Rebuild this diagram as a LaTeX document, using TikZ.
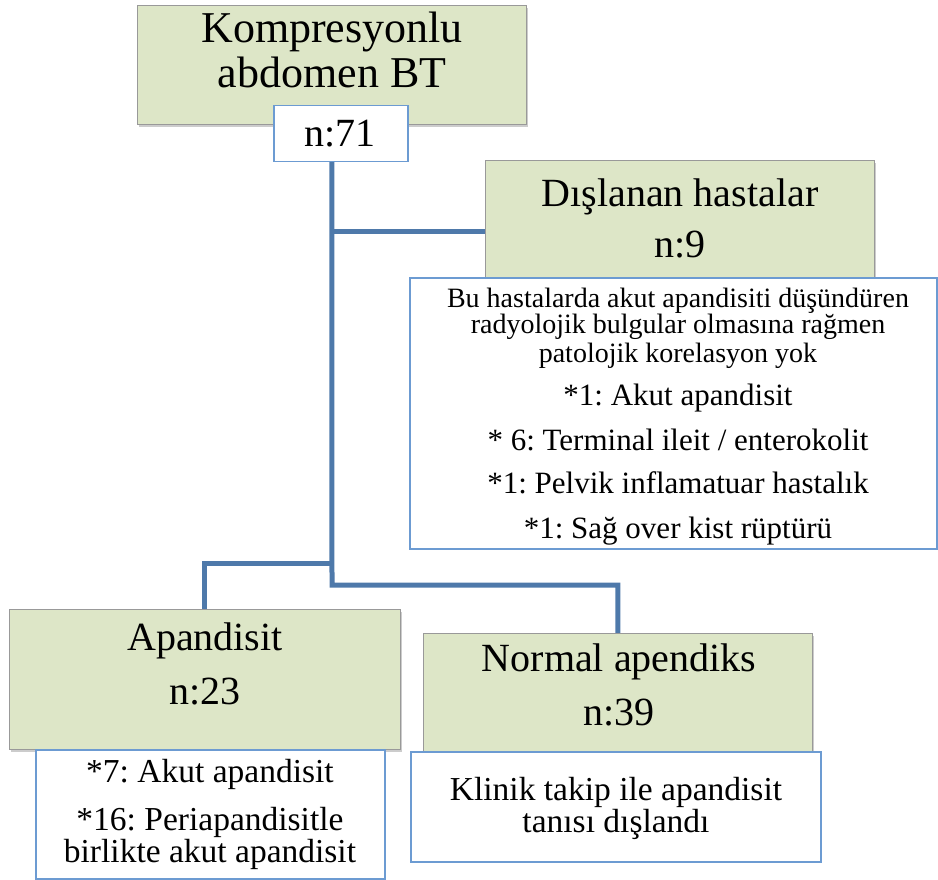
\documentclass[tikz,border=0pt]{standalone}
\usepackage{fontspec}
\setmainfont{Liberation Serif}
\usetikzlibrary{shadows,backgrounds}
\frenchspacing

\definecolor{boxgreen}{RGB}{221,230,199}
\definecolor{boxline}{RGB}{108,155,210}
\definecolor{linkblue}{RGB}{78,121,170}

\newcommand{\toptxt}{\fontsize{44}{44}\selectfont}
\newcommand{\bigtxt}{\fontsize{40}{40}\selectfont}
\newcommand{\smalltxt}{\fontsize{28}{28}\selectfont}
\newcommand{\listtxt}{\fontsize{31}{31}\selectfont}
\newcommand{\lowtxt}{\fontsize{33.5}{33.5}\selectfont}

\tikzset{
  greenbox/.style={draw=black!40, fill=boxgreen, line width=0.8pt, inner sep=0pt,
    anchor=north west,
    drop shadow={shadow xshift=2pt, shadow yshift=-3pt, opacity=0.4}},
  whitebox/.style={draw=boxline, fill=white, line width=1.5pt, inner sep=0pt,
    anchor=north west},
  link/.style={draw=linkblue, line width=5pt},
  txt/.style={anchor=base, inner sep=0pt},
}

\begin{document}
\begin{tikzpicture}[x=1pt, y=-1pt]
  \useasboundingbox (0,0) rectangle (938,880);

  % boxes
  \node[greenbox, minimum width=389pt, minimum height=119pt] (komp) at (137,5) {};
  \node[whitebox, minimum width=134pt, minimum height=56pt] (n71) at (273,105) {};
  \node[greenbox, minimum width=389pt, minimum height=140pt] (dis) at (485,160) {};
  \node[whitebox, minimum width=527pt, minimum height=271pt] (disnot) at (409,277) {};
  \node[greenbox, minimum width=391pt, minimum height=140pt] (apand) at (9,609) {};
  \node[whitebox, minimum width=349pt, minimum height=129pt] (apandnot) at (35,749) {};
  \node[greenbox, minimum width=389pt, minimum height=135pt] (norm) at (423,633) {};
  \node[whitebox, minimum width=410pt, minimum height=110pt] (normnot) at (410,751) {};

  % texts
  \node[txt, font=\toptxt] (t1) at (332,43) {Kompresyonlu};
  \node[txt, font=\toptxt] (t2) at (332,88) {abdomen BT};
  \node[txt, font=\bigtxt] (t3) at (340,147) {n:71};
  \node[txt, font=\bigtxt] (t4) at (680,207) {Dışlanan hastalar};
  \node[txt, font=\bigtxt] (t5) at (680,258) {n:9};
  \foreach \line/\y in {{Bu hastalarda akut apandisiti düşündüren}/307,
      {radyolojik bulgular olmasına rağmen}/333,
      {patolojik korelasyon yok}/362}
    \node[txt, font=\smalltxt] (d\y) at (678,\y) {\line};
  \foreach \line/\y in {{*1: Akut apandisit}/405,
      {* 6: Terminal ileit / enterokolit}/450,
      {*1: Pelvik inflamatuar hastalık}/493,
      {*1: Sağ over kist rüptürü}/538}
    \node[txt, font=\listtxt] (d\y) at (678,\y) {\line};
  \node[txt, font=\bigtxt] (t6) at (205,650) {Apandisit};
  \node[txt, font=\bigtxt] (t7) at (205,704) {n:23};
  \node[txt, font=\bigtxt] (t8) at (619,671) {Normal apendiks};
  \node[txt, font=\bigtxt] (t9) at (619,725) {n:39};
  \foreach \line/\y in {{*7: Akut apandisit}/782,
      {*16: Periapandisitle}/830,
      {birlikte akut apandisit}/862}
    \node[txt, font=\lowtxt] (a\y) at (210,\y) {\line};
  \foreach \line/\y in {{Klinik takip ile apandisit}/800,
      {tanısı dışlandı}/832}
    \node[txt, font=\lowtxt] (k\y) at (616,\y) {\line};

  % connectors
  \coordinate (jdis) at (332,232);
  \coordinate (japand) at (332,563);
  \coordinate (jnorm) at (332,585);
  \begin{scope}[on background layer]
    \draw[link] (komp.south) -- (jnorm) -| (norm.north);
    \draw[link] (jdis) -- (jdis -| dis.west);
    \draw[link] (japand) -| (apand.north);
  \end{scope}
\end{tikzpicture}
\end{document}
